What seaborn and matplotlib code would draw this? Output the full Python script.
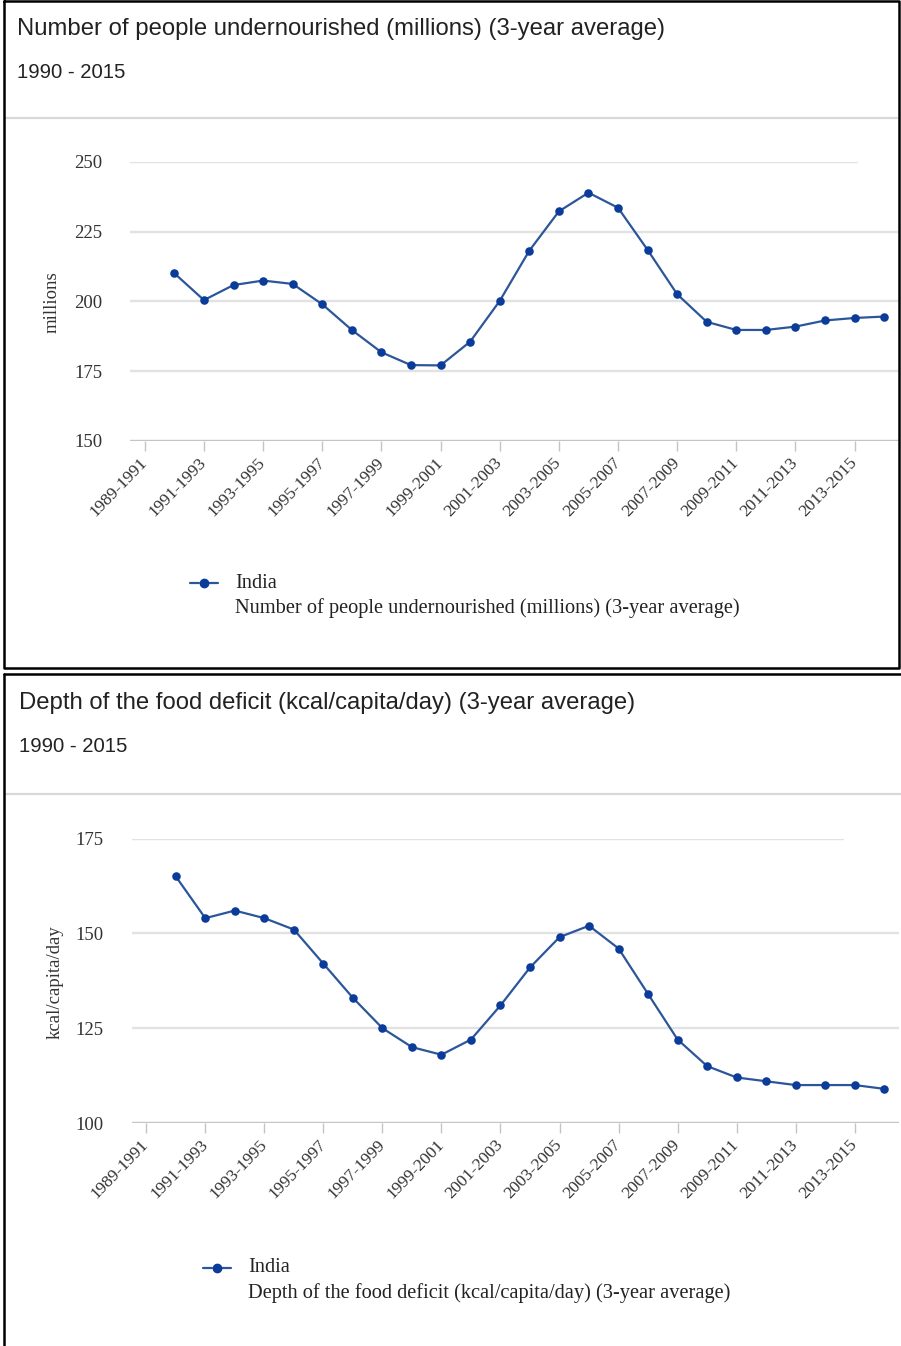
import matplotlib
matplotlib.use("Agg")
import matplotlib.pyplot as plt
from matplotlib.lines import Line2D
import numpy as np
import pandas as pd
import seaborn as sns

# ---- data -------------------------------------------------------------
periods = ["1990-1992", "1991-1993", "1992-1994", "1993-1995", "1994-1996",
           "1995-1997", "1996-1998", "1997-1999", "1998-2000", "1999-2001",
           "2000-2002", "2001-2003", "2002-2004", "2003-2005", "2004-2006",
           "2005-2007", "2006-2008", "2007-2009", "2008-2010", "2009-2011",
           "2010-2012", "2011-2013", "2012-2014", "2013-2015", "2014-2016"]

undernourished = [210.1, 200.5, 205.9, 207.5, 206.3, 199.0, 189.8, 181.8,
                  177.2, 177.1, 185.6, 200.2, 218.2, 232.3, 239.0, 233.6,
                  218.5, 202.6, 192.7, 189.8, 189.8, 191.0, 193.2, 194.1,
                  194.6]

food_deficit = [165, 154, 156, 154, 151, 142, 133, 125, 120, 118, 122, 131,
                141, 149, 152, 146, 134, 122, 115, 112, 111, 110, 110, 110,
                109]

tick_labels = ["1989-1991", "1991-1993", "1993-1995", "1995-1997",
               "1997-1999", "1999-2001", "2001-2003", "2003-2005",
               "2005-2007", "2007-2009", "2009-2011", "2011-2013",
               "2013-2015"]

yticks_top = [150, 175, 200, 225, 250]
yticks_bottom = [100, 125, 150, 175]

country = "India"
title_top = "Number of people undernourished (millions) (3-year average)"
title_bottom = "Depth of the food deficit (kcal/capita/day) (3-year average)"
subtitle = "1990 - 2015"

# ---- style ------------------------------------------------------------
sns.set_theme(style="white")
plt.rcParams["font.family"] = ["Liberation Serif", "DejaVu Serif"]

W, H = 901, 1346
fig = plt.figure(figsize=(W / 100, H / 100), dpi=100)

LINE_C = "#2c569a"
DOT_C = "#0b3c99"
GRID_C = "#e2e2e2"
BASE_C = "#c4c4c4"
SANS = ["Liberation Sans", "DejaVu Sans"]
SERIF = ["Liberation Serif", "DejaVu Serif"]


def fx(x):
    return x / W


def fy(y):
    return 1 - y / H


def frame_lines(xs, ys, **kw):
    fig.add_artist(Line2D([fx(v) for v in xs], [fy(v) for v in ys],
                          transform=fig.transFigure, **kw))


def panel(ax_box, values, yticks, ylabel, ylabel_xy, top_grid_frac,
          title, text_x, title_y, sub_y, legend_xy, legend_text):
    left, top, right, bottom = ax_box
    ax = fig.add_axes([fx(left), fy(bottom), fx(right) - fx(left),
                       (bottom - top) / H])
    df = pd.DataFrame({"pos": np.arange(len(periods)), "value": values,
                       "period": periods})
    sns.lineplot(data=df, x="pos", y="value", ax=ax, color=LINE_C,
                 linewidth=1.6, zorder=3)
    sns.scatterplot(data=df, x="pos", y="value", ax=ax, color=DOT_C,
                    s=38, linewidth=0, zorder=4)
    ax.set_xlim(-1.5, 24.5)
    ax.set_ylim(yticks[0], yticks[-1])
    for v in yticks[1:]:
        xmax = top_grid_frac if v == yticks[-1] else 1.0
        ax.axhline(v, color=GRID_C, lw=1.7, xmax=xmax, zorder=1)
    ax.axhline(yticks[0], color=BASE_C, lw=1.7, zorder=2)
    for s in ax.spines.values():
        s.set_visible(False)
    ax.set_yticks(yticks)
    ax.set_yticklabels([str(v) for v in yticks], fontfamily=SERIF,
                       fontsize=13.5, color="#333333")
    ax.tick_params(axis="y", length=0, pad=20)
    tpos = np.arange(-1, 24, 2)
    ax.set_xticks(tpos)
    ax.set_xticklabels(tick_labels, rotation=46, ha="right", va="center",
                       rotation_mode="anchor", fontfamily=SERIF,
                       fontsize=12.5, color="#333333")
    ax.tick_params(axis="x", length=7, width=1, color=BASE_C, pad=7,
                   bottom=True, direction="out")
    ax.set_xlabel("")
    ax.set_ylabel("")
    ax.patch.set_alpha(0)

    fig.text(fx(ylabel_xy[0]), fy(ylabel_xy[1]), ylabel, rotation=90,
             ha="center", va="center", fontfamily=SERIF, fontsize=13.5,
             color="#333333")
    fig.text(fx(text_x), fy(title_y), title, ha="left", va="center",
             fontfamily=SANS, fontsize=17.2, color="#222222")
    fig.text(fx(text_x), fy(sub_y), subtitle, ha="left", va="center",
             fontfamily=SANS, fontsize=14.6, color="#222222")

    lx, ly = legend_xy
    frame_lines([lx, lx + 9], [ly, ly], color=LINE_C, lw=1.6)
    frame_lines([lx + 19, lx + 28], [ly, ly], color=LINE_C, lw=1.6)
    fig.add_artist(Line2D([fx(lx + 14)], [fy(ly)], marker="o",
                          markersize=6, color=DOT_C, linestyle="none",
                          transform=fig.transFigure))
    fig.text(fx(lx + 45), fy(ly), country, ha="left", va="center",
             fontfamily=SERIF, fontsize=14.7, color="#222222")
    fig.text(fx(lx + 45), fy(ly + 25), legend_text, ha="left", va="center",
             fontfamily=SERIF, fontsize=14.7, color="#222222")
    return ax


# top chart
panel((130, 162, 899, 441), undernourished, yticks_top, "millions",
      (52, 302), 0.945, title_top, 17, 29, 72, (190, 583), title_top)
# bottom chart
panel((131.5, 838.5, 899, 1123), food_deficit, yticks_bottom,
      "kcal/capita/day", (55, 982), 0.927, title_bottom, 19, 703, 747,
      (203, 1268), title_bottom)

# panel separators and frames
frame_lines([5, 897], [118, 118], color="#d8d8d8", lw=1.6)
frame_lines([5, 901], [794, 794], color="#d8d8d8", lw=1.6)
frame_lines([3.5, 898.5, 898.5, 3.5, 3.5], [1, 1, 668, 668, 1],
            color="black", lw=1.8)
frame_lines([3.5, 3.5], [1346, 674], color="black", lw=1.8)
frame_lines([3.5, 901], [674, 674], color="black", lw=1.8)

fig.savefig("out.png", dpi=100)
